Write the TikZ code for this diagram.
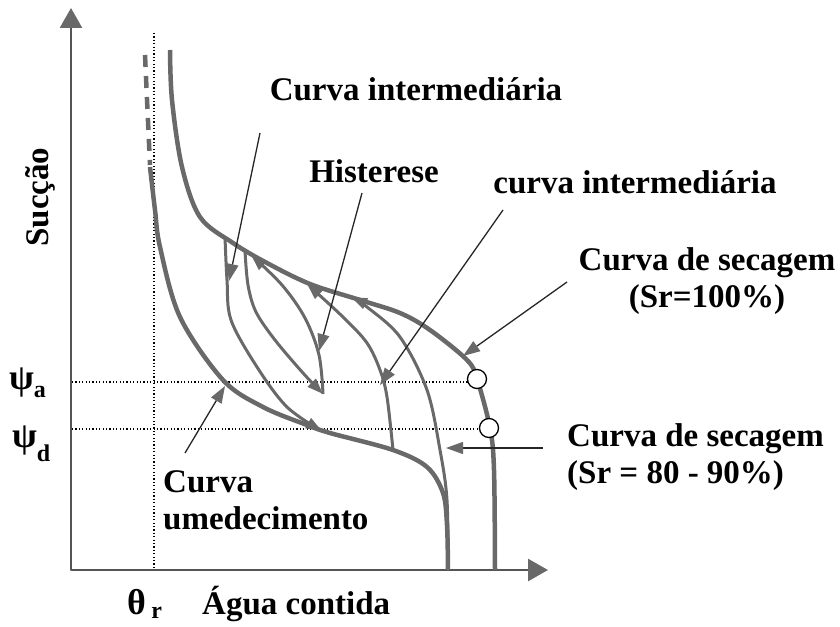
\documentclass[tikz,border=0pt]{standalone}
\usepackage{fontspec}
\setmainfont{Liberation Serif}
\usetikzlibrary{arrows.meta}
\definecolor{curvegray}{RGB}{105,105,105}
\definecolor{axisgray}{RGB}{85,85,85}
\newcommand\grkfont{\fontsize{36}{36}\selectfont}
\newcommand\subfont{\fontsize{24}{24}\selectfont}
\begin{document}
\begin{tikzpicture}[x=1pt, y=-1pt, line join=round,
  font=\fontsize{33}{37}\selectfont\bfseries,
  >={Triangle[length=16pt,width=11pt]},
  curve/.style={draw=curvegray, line width=3pt},
  maincurve/.style={draw=curvegray, line width=4.5pt},
  pointer/.style={draw=black!85, line width=1.3pt, -{Triangle[length=17pt,width=12pt,color=curvegray]}},
  guide/.style={line width=1.2pt, dash pattern=on 1.2pt off 2.2pt},
  axistip/.tip={Triangle[length=20pt,width=22pt,color=curvegray]},
  txt/.style={inner sep=0pt}]
\useasboundingbox (0,0) rectangle (840,626);
\path (71,570) coordinate (O) (71,8) coordinate (Y) (548,570) coordinate (X);
% guide lines
\draw[guide] (154,33) -- (154,569);
\foreach \y/\e in {382/468, 429/480}{
  \draw[guide] (72,\y) -- (\e,\y);
}
\draw[draw=axisgray, line width=2.6pt, axistip-axistip] (Y) -- (O) -- (X);
% drying curve, Sr=100%
\draw[maincurve] plot[smooth, tension=0.55] coordinates {(170,50) (172,100) (182,167) (200,217) (233,243) (267,263) (310,284) (360,300) (400,313) (430,330) (467,360) (477,379) (490,428) (494,470) (495,570)};
% wetting curve
\draw[maincurve, dash pattern=on 12pt off 9pt] (145,55) -- (150,165);
\draw[maincurve] plot[smooth, tension=0.55] coordinates {(150,167) (155,210) (160,247) (180,317) (223,380) (263,407) (307,425) (330,433) (393,450) (427,467) (443,493) (447,525) (448,570)};
% scanning curves
\draw[curve, ->] plot[smooth, tension=0.55] coordinates {(225,237) (227,280) (231,320) (257,367) (287,407) (322,431)};
\draw[curve, ->] plot[smooth, tension=0.55] coordinates {(245,251) (248,285) (256,312) (275,340) (303,373) (323,394)};
\draw[curve, ->] plot[smooth, tension=0.55] coordinates {(323,394) (319,355) (305,318) (282,285) (251,255)};
\draw[curve, ->] plot[smooth, tension=0.55] coordinates {(393,450) (387,397) (380,370) (367,343) (343,317) (307,284)};
\draw[curve, ->] plot[smooth, tension=0.55] coordinates {(448,570) (447,500) (440,450) (427,390) (400,337) (367,307) (351,297)};
\foreach \c in {(477,379), (489,428)}{
  \draw[line width=1.3pt, fill=white] \c circle (9.5pt);
}
% labels
\node[txt, anchor=base] (intTop) at (416,100) {Curva intermediária};
\node[txt, anchor=base] (hist) at (374,182) {Histerese};
\node[txt, anchor=base] (intLow) at (635,193) {curva intermediária};
\node[txt, anchor=north, align=center] (secA) at (707,247) {Curva de secagem\\(Sr=100\%)};
\node[txt, anchor=north west, align=left] (secB) at (567,423) {Curva de secagem\\(Sr = 80 - 90\%)};
\node[txt, anchor=north west, align=left] (umed) at (163,470) {Curva\\umedecimento};
\node[txt, anchor=base west] (psiA) at (9,389) {{\grkfont ψ}\raisebox{-8pt}{\subfont a}};
\node[txt, anchor=base west] (psiD) at (12,447) {{\grkfont ψ}\raisebox{-14pt}{\subfont d}};
\node[txt, anchor=base west] (thetaR) at (127,614) {{\grkfont θ}\,\raisebox{-4pt}{\subfont r}};
\node[txt, anchor=base west] (agua) at (202,614) {Água contida};
\node[txt, rotate=90, anchor=base] (succ) at (48,197) {Sucção};
% pointers
\path (260,133) coordinate (p1) (229,281) coordinate (q1)
      (362,193) coordinate (p2) (319,351) coordinate (q2)
      (503,210) coordinate (p3) (380,385) coordinate (q3)
      (567,282) coordinate (p4) (463,356) coordinate (q4)
      (543,448) coordinate (p5) (446,448) coordinate (q5)
      (185,453) coordinate (p6) (225,386) coordinate (q6);
\foreach \i in {1,...,6}{
  \draw[pointer] (p\i) -- (q\i);
}
\end{tikzpicture}
\end{document}
